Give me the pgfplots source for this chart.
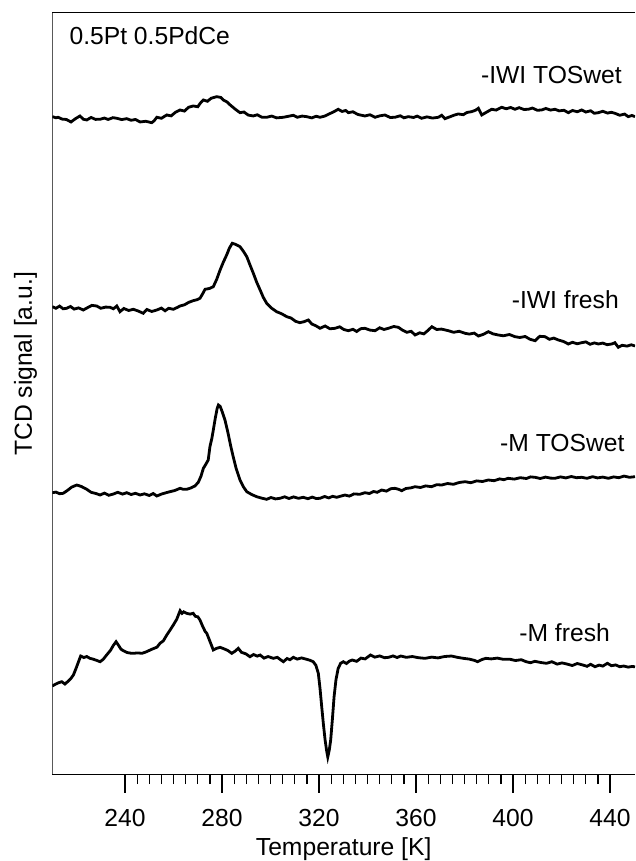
\documentclass[border=0pt]{standalone}
\usepackage{fontspec}
\setmainfont{Liberation Sans}
\usepackage{pgfplots}
\pgfplotsset{compat=1.18}
\usepackage{pgfplotstable}

\pgfplotstableread{
T Y
210.0 657.6
211.5 656.5
212.4 657.0
214.0 655.2
215.8 654.8
217.7 652.3
219.5 655.5
221.4 658.3
222.8 655.0
224.2 654.3
226.0 656.8
227.8 654.9
229.7 655.0
231.5 656.2
233.0 654.8
235.0 656.6
236.6 656.0
238.6 654.7
240.7 655.6
242.5 654.0
244.3 654.8
246.2 652.3
248.5 653.0
251.0 651.6
252.0 653.5
253.1 657.0
255.0 656.0
257.2 659.3
259.0 658.4
260.8 662.0
262.7 664.3
264.5 663.2
266.2 667.0
268.1 668.3
270.0 667.5
271.0 671.0
272.3 674.3
274.0 673.0
275.5 676.0
277.8 677.6
279.5 676.8
280.7 674.0
281.9 672.6
283.5 669.0
285.5 665.0
287.4 661.6
289.0 662.3
290.8 659.2
292.9 658.3
294.5 659.5
296.5 657.0
298.4 657.0
300.5 658.2
302.5 656.4
305.3 657.0
307.0 657.8
309.4 659.0
311.0 657.0
313.0 658.2
314.9 657.6
317.0 656.4
318.8 658.0
320.4 657.0
322.5 658.3
324.3 660.5
326.0 662.4
327.9 665.0
329.5 662.8
331.0 663.8
332.1 661.6
334.0 662.5
336.0 659.8
338.9 658.3
341.0 659.5
343.1 657.0
345.0 658.4
347.2 659.3
349.3 656.8
351.3 657.0
353.5 658.5
355.0 656.5
356.8 657.6
359.0 656.8
360.5 658.2
362.3 656.0
364.5 657.4
366.8 656.2
369.2 657.0
370.6 659.0
371.9 655.6
374.0 657.5
375.8 659.2
377.4 660.3
379.5 659.6
381.0 661.8
382.9 662.6
384.5 664.0
385.7 666.0
387.1 659.3
389.0 662.0
391.2 665.0
393.0 664.2
395.3 667.0
397.2 665.5
399.0 666.8
400.8 665.0
402.5 666.6
404.5 664.8
406.3 665.0
408.0 666.2
410.0 664.0
411.8 664.3
413.5 665.8
415.5 664.2
417.3 665.0
419.0 663.4
421.0 664.0
422.8 661.6
424.5 663.8
426.5 662.5
428.3 664.3
430.0 662.2
432.0 663.5
433.5 661.0
435.2 661.6
437.0 663.0
439.0 661.2
440.5 662.0
442.0 661.0
444.0 659.0
446.0 660.2
447.5 657.6
449.0 658.8
450.3 657.6
}\iwitos

\pgfplotstableread{
T Y
210.0 467.6
211.5 466.0
213.0 468.2
214.5 465.5
215.9 466.0
217.5 467.8
219.0 465.2
220.8 466.4
222.8 464.3
224.5 466.6
226.3 468.9
228.3 468.3
230.0 466.0
232.0 467.2
233.8 467.0
235.2 465.5
236.6 468.3
237.9 462.6
239.5 465.8
241.5 463.8
243.4 465.0
245.5 463.2
247.5 461.0
249.0 464.8
251.0 462.8
253.1 464.3
255.0 466.2
256.5 463.5
258.0 466.0
259.9 465.0
261.5 466.8
262.7 468.3
264.5 469.5
266.3 472.0
268.1 473.6
269.6 474.5
270.9 476.0
272.0 480.5
273.0 485.0
274.8 485.8
276.4 487.6
277.8 495.0
279.2 504.3
280.5 512.0
281.9 519.3
283.0 526.0
284.2 531.0
285.5 530.0
286.5 528.8
287.4 527.6
288.8 523.0
290.2 517.6
291.5 509.5
292.9 501.0
294.3 492.0
295.7 484.3
297.0 477.0
298.4 471.0
300.5 466.0
302.5 462.6
304.5 460.6
306.7 457.6
308.5 456.2
310.3 453.0
312.1 451.6
313.8 452.6
315.6 454.3
317.0 450.3
318.7 448.5
320.4 446.0
322.5 448.3
324.5 445.5
326.6 446.0
328.5 447.5
330.2 444.8
332.1 443.6
334.0 445.0
335.5 442.8
337.2 445.6
338.9 446.0
341.0 444.2
343.1 443.6
345.0 446.5
346.8 444.8
348.6 446.0
350.8 447.8
352.7 447.0
354.5 444.0
356.2 442.0
358.0 443.0
359.6 439.3
361.5 441.5
363.2 440.4
365.0 444.0
366.5 447.6
368.5 444.8
370.5 445.2
373.3 443.6
375.5 442.0
377.8 443.0
380.2 441.0
382.0 440.2
384.0 441.2
385.7 438.3
387.8 440.0
389.8 442.6
391.8 440.4
393.9 439.3
396.0 438.5
398.5 439.8
400.8 437.6
402.8 436.8
405.0 437.8
407.0 435.0
409.1 433.6
411.0 438.0
413.2 437.6
415.0 435.0
416.8 436.2
418.7 434.3
420.8 432.8
422.8 430.3
424.5 432.0
426.5 430.5
428.3 431.6
430.0 432.4
431.8 430.0
433.5 431.4
435.2 430.3
437.0 431.2
438.8 429.6
440.7 430.3
442.0 431.6
443.4 427.0
445.0 429.0
447.0 428.2
448.8 429.5
450.3 428.3
}\iwifresh

\pgfplotstableread{
T Y
210.0 281.6
211.5 282.2
213.0 280.6
214.5 281.0
216.2 283.8
218.0 287.2
220.1 289.3
222.0 287.8
224.2 285.0
226.0 282.0
228.0 280.8
229.7 279.3
231.5 281.2
233.3 279.0
235.2 280.3
237.0 282.0
239.0 280.2
240.7 281.6
242.5 279.8
244.3 281.0
246.2 279.3
248.0 280.5
250.0 278.8
251.6 280.8
253.1 278.3
255.0 280.2
256.8 281.5
258.5 282.6
260.5 283.8
262.7 286.0
264.0 285.0
265.4 285.0
267.0 286.2
268.8 288.3
270.2 292.0
271.3 298.0
272.3 306.0
273.3 310.0
274.3 314.3
275.0 327.6
275.8 336.0
276.4 344.3
277.2 356.0
278.0 366.0
278.5 369.3
279.2 368.0
280.0 363.0
281.2 354.3
282.4 342.0
283.6 328.0
284.6 317.6
285.8 306.0
287.4 294.3
288.8 287.5
290.2 282.6
292.2 279.8
294.3 277.6
296.3 276.2
298.4 275.0
300.2 276.8
302.0 275.4
303.9 276.0
305.8 277.5
307.6 275.8
309.5 277.4
311.5 276.0
313.5 277.0
315.4 275.6
317.2 277.2
318.8 275.8
320.4 276.0
322.3 277.8
324.0 276.4
325.6 278.0
327.3 277.0
329.0 278.2
330.7 279.3
332.5 278.2
334.4 280.4
336.8 280.0
338.9 281.6
340.8 280.8
342.5 282.8
344.0 282.0
345.8 284.3
347.8 283.2
349.6 285.6
351.3 286.0
352.8 285.0
354.1 283.6
355.8 285.8
357.8 286.4
359.6 287.6
361.8 286.8
364.0 288.4
366.4 287.6
368.5 289.6
370.6 289.3
373.0 290.8
375.4 290.0
377.8 291.8
380.2 292.6
382.6 291.6
385.0 293.4
387.4 292.8
389.8 294.3
392.2 293.6
394.5 295.4
396.2 294.6
398.0 296.0
400.5 295.2
403.0 296.6
405.5 295.8
407.2 297.4
409.1 297.0
411.2 295.8
413.4 297.2
415.4 296.2
417.3 296.0
419.6 297.4
421.8 296.4
424.0 297.8
426.2 296.6
428.3 297.0
430.5 296.0
432.8 297.6
434.8 296.4
437.0 297.2
439.3 296.0
441.5 297.4
443.6 296.6
445.8 298.2
448.0 297.0
450.3 297.6
}\mtos

\pgfplotstableread{
T Y
210.0 88.3
211.2 90.0
212.5 91.5
213.9 92.6
215.2 90.3
216.5 93.0
217.7 96.0
218.7 99.3
219.8 106.0
220.8 112.5
221.7 118.3
223.0 116.8
224.2 117.8
225.5 116.0
226.8 115.2
228.2 114.0
229.7 112.6
231.0 115.0
232.4 119.3
234.0 124.0
235.2 129.0
236.3 132.6
237.3 129.0
238.3 125.2
239.3 123.6
240.8 121.8
242.2 121.2
243.4 121.0
245.2 121.4
247.0 121.0
248.9 122.6
250.5 124.5
252.0 126.0
253.2 127.2
254.4 131.0
255.8 133.5
257.2 139.3
258.5 144.0
259.9 149.3
261.3 155.0
262.7 163.6
263.5 161.0
264.2 162.5
265.4 161.0
266.8 160.2
268.1 161.0
269.0 158.0
270.0 157.5
270.9 154.3
272.0 148.0
273.0 143.0
273.7 141.0
275.0 133.0
276.4 124.3
277.8 126.0
279.2 127.0
280.8 125.5
282.4 123.8
284.0 121.0
285.3 123.0
286.7 126.0
288.0 122.0
289.8 120.5
291.5 117.6
293.0 119.8
294.5 118.2
295.7 119.3
297.3 116.2
299.0 117.8
301.1 116.0
302.8 117.0
304.0 114.8
305.3 112.6
306.8 115.8
308.0 114.6
309.4 117.0
311.0 115.2
312.8 116.4
314.9 115.0
316.3 114.0
317.6 112.6
318.7 109.0
319.7 101.0
320.4 86.0
321.1 67.6
321.8 50.0
322.5 34.3
323.1 24.0
323.6 17.3
324.2 24.0
324.8 34.3
325.5 55.0
326.2 77.6
327.0 95.0
327.9 106.0
328.9 111.0
330.0 112.6
331.3 110.8
332.5 113.2
333.7 114.3
335.5 113.0
337.3 116.2
339.0 115.4
341.2 119.3
343.0 117.2
345.0 118.4
347.0 116.6
348.7 117.0
350.5 118.4
352.2 116.8
353.7 118.3
356.0 117.0
358.5 117.8
361.0 116.6
363.7 116.0
366.5 117.2
369.0 116.4
371.8 117.8
374.6 118.3
377.0 117.0
379.5 116.0
382.0 115.2
384.0 114.0
385.4 112.6
387.2 114.8
388.8 116.0
391.0 115.4
393.5 116.2
396.0 115.0
398.8 115.0
401.0 113.8
403.4 114.6
405.4 112.6
407.2 111.6
409.0 113.0
411.5 111.8
413.8 111.0
416.0 112.6
418.2 110.2
420.2 111.4
422.2 110.3
424.4 108.8
426.5 110.8
428.8 109.3
430.5 108.0
432.0 110.0
433.8 107.6
435.5 109.2
437.0 108.2
438.9 111.0
440.6 108.6
442.3 109.4
444.0 107.6
445.6 108.3
447.5 107.2
449.0 107.8
450.3 107.6
}\mfresh

\begin{document}
\begin{tikzpicture}[font=\fontsize{18.5}{22}\selectfont]
\begin{axis}[
  scale only axis,
  width=437pt, height=571.5pt,
  xmin=210, xmax=450.3,
  ymin=0, ymax=762,
  separate axis lines,
  x axis line style={line width=0.9pt, black},
  y axis line style={draw=none},
  xtick={240,280,...,440},
  minor x tick num=7,
  xtick pos=bottom,
  xtick align=outside,
  major tick length=13.8pt,
  minor tick length=7.3pt,
  tick style={black, line width=0.9pt},
  ytick=\empty,
  /pgf/number format/assume math mode=true,
  xticklabel style={font=\fontsize{18.5}{22}\selectfont, yshift=-9pt},
  xlabel={Temperature [K]},
  xlabel style={yshift=-1pt},
  ylabel={TCD signal [a.u.]},
  ylabel style={at={(rel axis cs:-0.046,0.5385)}, anchor=center},
]
\addplot[black, line width=2.1pt] table[x=T,y=Y] {\iwitos};
\addplot[black, line width=2.1pt] table[x=T,y=Y] {\iwifresh};
\addplot[black, line width=2.1pt] table[x=T,y=Y] {\mtos};
\addplot[black, line width=2.1pt] table[x=T,y=Y] {\mfresh};
\draw[black, line width=0.9pt] (rel axis cs:0,0) -- (rel axis cs:0,1);
\node[anchor=base west, inner sep=0pt] at (axis cs:217.0,729.3) {0.5Pt 0.5PdCe};
\node[anchor=base west, inner sep=0pt] at (axis cs:386.7,691) {-IWI TOSwet};
\node[anchor=base west, inner sep=0pt] at (axis cs:399.4,466) {-IWI fresh};
\node[anchor=base west, inner sep=0pt] at (axis cs:394.6,322.6) {-M TOSwet};
\node[anchor=base west, inner sep=0pt] at (axis cs:402.5,132.6) {-M fresh};
\end{axis}
\pgfresetboundingbox
\useasboundingbox (-39.225pt,-65pt) rectangle (437.025pt,580.7pt);
\end{tikzpicture}
\end{document}
